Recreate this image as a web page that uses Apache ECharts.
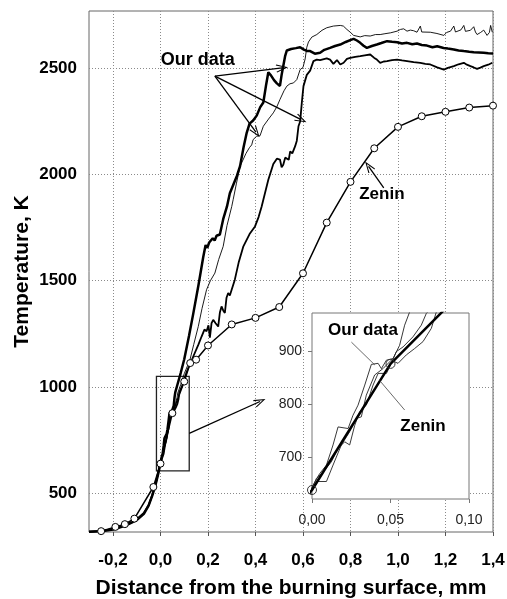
<!DOCTYPE html>
<html>
<head>
<meta charset="utf-8">
<script src="https://cdn.jsdelivr.net/npm/echarts@6.0.0/dist/echarts.min.js"></script>
<style>
    html, body { margin: 0; padding: 0; background: #fff; }
    #chart { width: 507px; height: 599px; }
</style>
</head>
<body>
<div id="chart"></div>
<script>
// tick labels
const xTicks = [-0.2, 0, 0.2, 0.4, 0.6, 0.8, 1.0, 1.2, 1.4];
const yTicks = [500, 1000, 1500, 2000, 2500];
const insetXTicks = [0, 0.05, 0.1];
const insetYTicks = [700, 800, 900];

// "Our data" - bold curve (rises first)
const ourDataA = [
    [-0.301, 317], [-0.25, 320], [-0.2, 328], [-0.15, 345], [-0.1, 372], [-0.07, 402], [-0.05, 440],
    [-0.035, 486], [-0.02, 542], [-0.01, 588], [0.0007, 647],
    [0.0049, 669], [0.0092, 685], [0.0134, 723], [0.0166, 757], [0.0230, 754], [0.0261, 779], [0.0293, 798],
    [0.0336, 836], [0.0378, 875], [0.0421, 877], [0.0442, 867], [0.0474, 883], [0.0516, 886], [0.0558, 911],
    [0.0590, 949], [0.0622, 974],
    [0.07, 1005], [0.085, 1065], [0.1, 1130], [0.12, 1240], [0.138, 1345], [0.16, 1480], [0.18, 1612],
    [0.19, 1668], [0.197, 1655], [0.205, 1680], [0.212, 1672], [0.22, 1700], [0.228, 1690], [0.236, 1712],
    [0.25, 1718], [0.264, 1790], [0.28, 1850], [0.292, 1912], [0.31, 1962], [0.322, 1995], [0.335, 2040],
    [0.35, 2130], [0.363, 2197], [0.375, 2240], [0.39, 2255], [0.405, 2278], [0.42, 2318], [0.433, 2340],
    [0.445, 2425], [0.454, 2482], [0.465, 2468], [0.478, 2445], [0.49, 2430], [0.503, 2418], [0.51, 2470],
    [0.517, 2512], [0.525, 2560], [0.532, 2585], [0.55, 2592], [0.57, 2596], [0.588, 2600], [0.602, 2590],
    [0.616, 2583], [0.63, 2582], [0.65, 2570], [0.672, 2574], [0.69, 2588], [0.714, 2597], [0.735, 2606],
    [0.757, 2613], [0.78, 2625], [0.799, 2634], [0.813, 2640], [0.827, 2632], [0.841, 2621], [0.855, 2607],
    [0.869, 2597], [0.89, 2606], [0.911, 2613], [0.93, 2620], [0.954, 2629], [0.975, 2626], [0.996, 2624],
    [1.017, 2618], [1.038, 2621], [1.06, 2614], [1.08, 2618], [1.1, 2611], [1.122, 2608], [1.145, 2600],
    [1.165, 2605], [1.192, 2597], [1.21, 2594], [1.235, 2590], [1.255, 2585], [1.277, 2582], [1.3, 2579],
    [1.319, 2577], [1.34, 2576], [1.361, 2574], [1.38, 2572], [1.4, 2571]
];

// "Our data" - thin curve (highest plateau)
const ourDataB = [
    [-0.301, 316], [-0.25, 319], [-0.2, 327], [-0.15, 343], [-0.1, 370], [-0.07, 400], [-0.05, 438],
    [-0.035, 482], [-0.02, 538], [-0.01, 585], [0.0002, 642],
    [0.0028, 660], [0.0070, 672], [0.0123, 691], [0.0166, 716], [0.0208, 729], [0.0240, 723], [0.0272, 760],
    [0.0304, 786], [0.0346, 798], [0.0389, 836], [0.0421, 858], [0.0474, 858], [0.0505, 877], [0.0537, 899],
    [0.0580, 908], [0.0643, 927], [0.0696, 949], [0.0728, 971],
    [0.085, 1010], [0.1, 1062], [0.124, 1127], [0.14, 1200], [0.159, 1284], [0.175, 1370], [0.194, 1458],
    [0.21, 1500], [0.229, 1536], [0.245, 1600], [0.264, 1662], [0.28, 1760], [0.3, 1850], [0.306, 1882],
    [0.32, 1960], [0.335, 2039], [0.36, 2100], [0.375, 2128], [0.384, 2140], [0.39, 2165], [0.398, 2172],
    [0.405, 2181], [0.412, 2176], [0.419, 2183], [0.433, 2228], [0.455, 2262], [0.475, 2291], [0.49, 2320],
    [0.503, 2354], [0.52, 2395], [0.532, 2417], [0.545, 2428], [0.56, 2432], [0.574, 2448], [0.588, 2495],
    [0.6, 2505], [0.609, 2545], [0.616, 2600], [0.623, 2625], [0.63, 2629], [0.637, 2648], [0.658, 2660],
    [0.68, 2680], [0.7, 2692], [0.728, 2700], [0.757, 2703], [0.77, 2700], [0.785, 2684], [0.8, 2670],
    [0.813, 2656], [0.841, 2649], [0.86, 2655], [0.883, 2653], [0.905, 2660], [0.925, 2660], [0.945, 2664],
    [0.968, 2668], [0.996, 2676], [1.01, 2684], [1.024, 2687], [1.038, 2676], [1.052, 2681], [1.066, 2678],
    [1.08, 2671], [1.094, 2700], [1.1, 2672], [1.108, 2668], [1.136, 2671], [1.164, 2665], [1.193, 2656],
    [1.205, 2670], [1.221, 2676], [1.235, 2700], [1.242, 2672], [1.249, 2671], [1.265, 2682], [1.277, 2703],
    [1.284, 2675], [1.291, 2668], [1.305, 2680], [1.319, 2697], [1.326, 2672], [1.333, 2660], [1.348, 2670],
    [1.361, 2681], [1.375, 2656], [1.385, 2670], [1.39, 2703], [1.397, 2671]
];

// "Our data" - medium curve (rises last, jagged)
const ourDataC = [
    [-0.301, 318], [-0.25, 321], [-0.2, 330], [-0.15, 348], [-0.1, 376], [-0.07, 406], [-0.05, 444],
    [-0.035, 490], [-0.02, 546], [-0.01, 592], [0.0002, 638],
    [0.0038, 654], [0.0092, 654], [0.0134, 685], [0.0187, 723], [0.0240, 748], [0.0283, 773], [0.0314, 776],
    [0.0346, 817], [0.0399, 855], [0.0452, 867], [0.0505, 883], [0.0548, 877], [0.0601, 893], [0.0654, 905],
    [0.0707, 918], [0.0760, 943], [0.0792, 974],
    [0.09, 1002], [0.11, 1070], [0.138, 1143], [0.16, 1200], [0.173, 1237], [0.185, 1270], [0.194, 1262],
    [0.202, 1290], [0.208, 1232], [0.215, 1300], [0.222, 1316], [0.232, 1300], [0.243, 1284], [0.25, 1350],
    [0.257, 1379], [0.264, 1360], [0.271, 1348], [0.278, 1420], [0.285, 1442], [0.292, 1430], [0.3, 1426],
    [0.313, 1505], [0.33, 1590], [0.349, 1662], [0.375, 1720], [0.398, 1756], [0.413, 1800], [0.426, 1850],
    [0.433, 1882], [0.454, 1976], [0.475, 2050], [0.49, 2075], [0.503, 2071], [0.51, 2035], [0.517, 2047],
    [0.525, 2080], [0.532, 2087], [0.54, 2070], [0.546, 2110], [0.555, 2100], [0.567, 2134], [0.574, 2160],
    [0.581, 2228], [0.588, 2250], [0.595, 2338], [0.602, 2417], [0.616, 2470], [0.63, 2490], [0.644, 2535],
    [0.658, 2542], [0.672, 2540], [0.7, 2548], [0.714, 2542], [0.728, 2522], [0.743, 2540], [0.757, 2519],
    [0.771, 2527], [0.785, 2545], [0.799, 2550], [0.82, 2555], [0.841, 2558], [0.86, 2562], [0.883, 2566],
    [0.9, 2550], [0.911, 2542], [0.925, 2527], [0.94, 2533], [0.954, 2535], [0.975, 2540], [0.996, 2542],
    [1.017, 2538], [1.038, 2535], [1.066, 2530], [1.094, 2527], [1.115, 2522], [1.136, 2519], [1.165, 2505],
    [1.193, 2495], [1.21, 2503], [1.235, 2511], [1.255, 2520], [1.277, 2527], [1.29, 2518], [1.305, 2511],
    [1.319, 2505], [1.333, 2498], [1.347, 2504], [1.361, 2511], [1.38, 2518], [1.397, 2527]
];

// Zenin (open circles)
const zeninData = [
    [-0.25, 320], [-0.19, 340], [-0.15, 353], [-0.11, 379], [-0.03, 528], [0, 638], [0.05, 876], [0.1, 1025],
    [0.125, 1112], [0.15, 1128], [0.2, 1195], [0.3, 1294], [0.4, 1325], [0.5, 1376], [0.6, 1535],
    [0.7, 1774], [0.8, 1966], [0.9, 2124], [1.0, 2225], [1.1, 2275], [1.2, 2296], [1.3, 2316], [1.4, 2325]
];

// annotation anchors (data coordinates)
const ourDataArrows = [
    [[0.229, 2464], [0.512, 2503]],
    [[0.229, 2464], [0.592, 2259]],
    [[0.229, 2464], [0.402, 2200]]
];
const zeninArrow = [[0.94, 1937], [0.876, 2039]];
const zoomBox = [[-0.017, 1049], [0.121, 604]];
const zoomArrow = [[0.121, 781], [0.419, 931]];
const insetPointers = [
    [[0.0251, 917], [0.040, 874]],
    [[0.059, 789], [0.043, 845]]
];

const font = "'Liberation Sans', Arial, sans-serif";
const arrowHead = 'path://M5,0L10,12L8.8,12.6L5,3.2L1.2,12.6L0,12Z';
const comma = (v, d) => v.toFixed(d).replace('.', ',');

let chart = echarts.init(document.getElementById('chart'));

let option = {
    animation: false,
    backgroundColor: '#fff',
    grid: [
        {
            left: 89, top: 11, width: 404, height: 521, show: true, borderColor: '#666', borderWidth: 1,
            outerBoundsMode: 'none'
        },
        {
            left: 312, top: 313, width: 157, height: 186, show: true, borderColor: '#777', borderWidth: 1,
            backgroundColor: '#fff', z: 1, outerBoundsMode: 'none'
        }
    ],
    xAxis: [
        {
            type: 'value', gridIndex: 0, min: -0.301, max: 1.4,
            name: 'Distance from the burning surface, mm',
            nameLocation: 'middle', nameGap: 46, nameMoveOverlap: false,
            nameTextStyle: { fontFamily: font, fontWeight: 'bold', fontSize: 21, color: '#000' },
            axisLine: { show: false },
            axisTick: { show: true, length: 4, customValues: xTicks, lineStyle: { color: '#555' } },
            axisLabel: {
                customValues: xTicks, margin: 20,
                fontFamily: font, fontWeight: 'bold', fontSize: 17, color: '#000',
                formatter: v => comma(v, 1)
            },
            splitLine: { show: true, lineStyle: { color: '#8a8a8a', width: 1, type: [1, 2] } }
        },
        {
            type: 'value', gridIndex: 1, min: 0, max: 0.1, interval: 0.05, z: 2,
            axisLine: { show: false },
            axisTick: { show: true, length: 4, customValues: insetXTicks, lineStyle: { color: '#777' } },
            axisLabel: {
                customValues: insetXTicks, margin: 14, fontFamily: font, fontSize: 14, color: '#222',
                formatter: v => comma(v, 2)
            },
            splitLine: { show: false }
        }
    ],
    yAxis: [
        {
            type: 'value', gridIndex: 0, min: 316, max: 2771,
            name: 'Temperature, K',
            nameLocation: 'middle', nameGap: 56, nameMoveOverlap: false,
            nameTextStyle: { fontFamily: font, fontWeight: 'bold', fontSize: 21, color: '#000' },
            axisLine: { show: false },
            axisTick: { show: false, customValues: yTicks },
            axisLabel: {
                customValues: yTicks, margin: 12,
                fontFamily: font, fontWeight: 'bold', fontSize: 17, color: '#000',
                formatter: v => String(v)
            },
            splitLine: { show: true, lineStyle: { color: '#8a8a8a', width: 1, type: [1, 2] } }
        },
        {
            type: 'value', gridIndex: 1, min: 621, max: 972, z: 2,
            axisLine: { show: false },
            axisTick: { show: true, length: 4, customValues: insetYTicks, lineStyle: { color: '#777' } },
            axisLabel: {
                customValues: insetYTicks, margin: 10,
                fontFamily: font, fontSize: 14, color: '#222',
                formatter: v => String(v)
            },
            splitLine: { show: false }
        }
    ],
    series: [
        {
            name: 'Our data A', type: 'line', data: ourDataA, showSymbol: false,
            lineStyle: { color: '#000', width: 2.5 }
        },
        {
            name: 'Our data B', type: 'line', data: ourDataB, showSymbol: false,
            lineStyle: { color: '#000', width: 0.9 }
        },
        {
            name: 'Our data C', type: 'line', data: ourDataC, showSymbol: false,
            lineStyle: { color: '#000', width: 1.8 }
        },
        {
            name: 'Zenin', type: 'line', data: zeninData,
            symbol: 'circle', symbolSize: 7,
            lineStyle: { color: '#000', width: 1.5 },
            itemStyle: { color: '#fff', borderColor: '#000', borderWidth: 1 },
            markLine: {
                silent: true, animation: false,
                symbol: ['none', arrowHead], symbolSize: [8, 12],
                label: { show: false },
                lineStyle: { color: '#000', width: 1.3, type: 'solid' },
                data: ourDataArrows.concat([zeninArrow, zoomArrow]).map(s => [{ coord: s[0] }, { coord: s[1] }])
            },
            markArea: {
                silent: true,
                itemStyle: { color: 'rgba(0,0,0,0)', borderColor: '#222', borderWidth: 1.3 },
                data: [[{ coord: zoomBox[0] }, { coord: zoomBox[1] }]]
            },
            markPoint: {
                silent: true, animation: false,
                symbol: 'circle', symbolSize: 1, itemStyle: { color: 'rgba(0,0,0,0)' },
                label: {
                    show: true, position: 'inside', formatter: p => p.name,
                    fontFamily: font, fontWeight: 'bold', fontSize: 18, color: '#000'
                },
                data: [
                    { name: 'Our data', coord: [0.157, 2538] },
                    { name: 'Zenin', coord: [0.932, 1906], label: { fontSize: 17 } }
                ]
            }
        },
        // inset: same data, zoomed
        {
            type: 'line', xAxisIndex: 1, yAxisIndex: 1, z: 3, data: ourDataA, showSymbol: false,
            lineStyle: { color: '#222', width: 0.9 }
        },
        {
            type: 'line', xAxisIndex: 1, yAxisIndex: 1, z: 3, data: ourDataB, showSymbol: false,
            lineStyle: { color: '#222', width: 0.9 }
        },
        {
            type: 'line', xAxisIndex: 1, yAxisIndex: 1, z: 3, data: ourDataC, showSymbol: false,
            lineStyle: { color: '#222', width: 0.9 }
        },
        {
            type: 'line', xAxisIndex: 1, yAxisIndex: 1, z: 4, data: zeninData,
            symbol: 'circle', symbolSize: 9,
            lineStyle: { color: '#000', width: 2.5 },
            itemStyle: { color: 'rgba(255,255,255,0)', borderColor: '#333', borderWidth: 1 },
            markLine: {
                silent: true, animation: false, symbol: ['none', 'none'],
                label: { show: false },
                lineStyle: { color: '#444', width: 0.8, type: 'solid' },
                data: insetPointers.map(s => [{ coord: s[0] }, { coord: s[1] }])
            },
            markPoint: {
                silent: true, animation: false,
                symbol: 'circle', symbolSize: 1, itemStyle: { color: 'rgba(0,0,0,0)' },
                label: {
                    show: true, position: 'inside', formatter: p => p.name,
                    fontFamily: font, fontWeight: 'bold', fontSize: 17, color: '#000'
                },
                data: [
                    { name: 'Our data', coord: [0.0325, 940] },
                    { name: 'Zenin', coord: [0.0707, 758] }
                ]
            }
        }
    ]
};
chart.setOption(option);
</script>
</body>
</html>
